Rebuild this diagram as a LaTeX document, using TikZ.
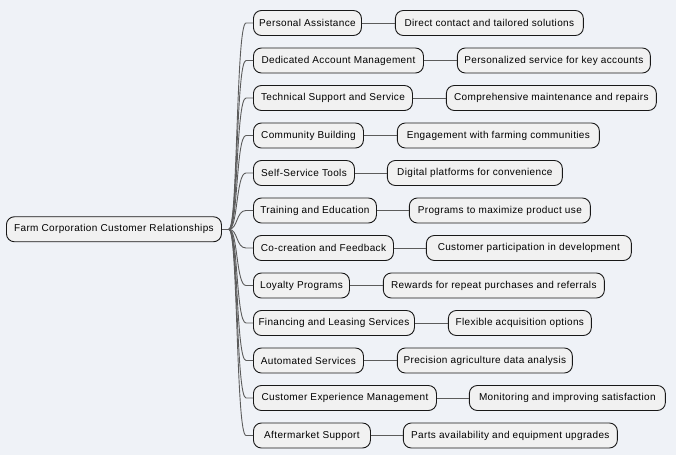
\documentclass[tikz,border=0pt]{standalone}
\usepackage{fontspec}
\setmainfont[LetterSpace=3.5]{Liberation Sans}
\usetikzlibrary{positioning}

\definecolor{bgcol}{HTML}{EFF2F7}
\definecolor{boxfill}{HTML}{F1F1F1}
\definecolor{boxline}{HTML}{181818}
\definecolor{linkcol}{HTML}{5C5C5C}

\begin{document}
\begin{tikzpicture}[x=1pt, y=-1pt, font={\fontsize{10pt}{12pt}\selectfont},
every node/.style={draw=boxline, fill=boxfill, rounded corners=8pt, line width=0.9pt,
inner xsep=5pt, inner ysep=0pt, minimum height=25pt, anchor=west},
link/.style={draw=linkcol, line width=0.9pt}]

\useasboundingbox (0,0) rectangle (676,455);
\fill[bgcol] (0,0) rectangle (676,455);

\path
(6,229.25) node[minimum width=215pt] (root) {Farm Corporation Customer Relationships}
(253,23) node[minimum width=108pt] (c1) {Personal Assistance}
(253,60.5) node[minimum width=170pt] (c2) {Dedicated Account Management}
(253,98) node[minimum width=159pt] (c3) {Technical Support and Service}
(253,135.5) node[minimum width=110pt] (c4) {Community Building}
(253,173) node[minimum width=101pt] (c5) {Self-Service Tools}
(253,210.5) node[minimum width=123pt] (c6) {Training and Education}
(253,248) node[minimum width=140pt] (c7) {Co-creation and Feedback}
(253,285.5) node[minimum width=96pt] (c8) {Loyalty Programs}
(253,323) node[minimum width=161pt] (c9) {Financing and Leasing Services}
(253,360.5) node[minimum width=110pt] (c10) {Automated Services}
(253,398) node[minimum width=183pt] (c11) {Customer Experience Management}
(253,435.5) node[minimum width=117pt] (c12) {Aftermarket Support}
;

\node[right=33pt of c1, minimum width=188pt] (l1) {Direct contact and tailored solutions};
\node[right=33pt of c2, minimum width=193pt] (l2) {Personalized service for key accounts};
\node[right=33pt of c3, minimum width=210pt] (l3) {Comprehensive maintenance and repairs};
\node[right=33pt of c4, minimum width=202pt] (l4) {Engagement with farming communities};
\node[right=32pt of c5, minimum width=175pt] (l5) {Digital platforms for convenience};
\node[right=32pt of c6, minimum width=181pt] (l6) {Programs to maximize product use};
\node[right=32pt of c7, minimum width=205pt] (l7) {Customer participation in development};
\node[right=33pt of c8, minimum width=221pt] (l8) {Rewards for repeat purchases and referrals};
\node[right=33pt of c9, minimum width=143pt] (l9) {Flexible acquisition options};
\node[right=33pt of c10, minimum width=175pt] (l10) {Precision agriculture data analysis};
\node[right=32pt of c11, minimum width=196pt] (l11) {Monitoring and improving satisfaction};
\node[right=32pt of c12, minimum width=214pt] (l12) {Parts availability and equipment upgrades};

% branches from the root
\begin{scope}[link]
\coordinate (hub) at ([xshift=7pt]root.east);
\draw (root.east) -- (hub);
\foreach \c in {c1,c2,c3,c4,c5,c6,c7,c8,c9,c10,c11,c12} {
\draw (hub) .. controls ([xshift=9pt]hub) and ([xshift=-17pt]\c.west) .. ([xshift=-7pt]\c.west) -- (\c.west);
}
\end{scope}

% leaves
\begin{scope}[link]
\foreach \i in {1,...,12} {
\draw (c\i) -- (l\i);
}
\end{scope}

\end{tikzpicture}
\end{document}
